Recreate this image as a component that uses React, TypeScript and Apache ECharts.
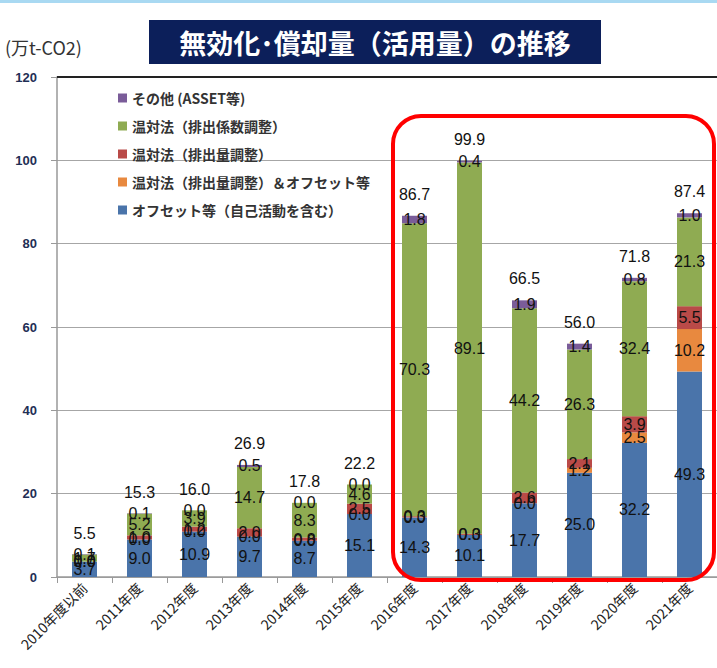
import React, { useEffect, useRef } from "react";
import * as echarts from "echarts";

const categories = [
  "2010年度以前", "2011年度", "2012年度", "2013年度", "2014年度", "2015年度",
  "2016年度", "2017年度", "2018年度", "2019年度", "2020年度", "2021年度",
];
const offsetSelf = [3.7, 9.0, 10.9, 9.7, 8.7, 15.1, 14.3, 10.1, 17.7, 25.0, 32.2, 49.3];
const emissionAndOffset = [0.0, 0.0, 0.0, 0.0, 0.0, 0.0, 0.0, 0.0, 0.0, 1.2, 2.5, 10.2];
const emissionAdj = [0.0, 1.0, 1.2, 2.0, 0.8, 2.5, 0.3, 0.3, 2.6, 2.1, 3.9, 5.5];
const factorAdj = [1.7, 5.2, 3.9, 14.7, 8.3, 4.6, 70.3, 89.1, 44.2, 26.3, 32.4, 21.3];
const others = [0.1, 0.1, 0.0, 0.5, 0.0, 0.0, 1.8, 0.4, 1.9, 1.4, 0.8, 1.0];
const totals = [5.5, 15.3, 16.0, 26.9, 17.8, 22.2, 86.7, 99.9, 66.5, 56.0, 71.8, 87.4];
const yTicks = { min: 0, max: 120, interval: 20 };

const names = {
  other: "その他 (ASSET等)",
  factor: "温対法（排出係数調整）",
  emission: "温対法（排出量調整）",
  emOff: "温対法（排出量調整）＆オフセット等",
  offset: "オフセット等（自己活動を含む）",
};

const colors = {
  offset: "#4a74aa",
  emOff: "#e8893f",
  emission: "#b94a48",
  factor: "#8fab52",
  other: "#7a5c99",
};

const labelStyle = {
  show: true,
  position: "inside" as const,
  color: "#111",
  fontSize: 16,
  fontFamily: "Liberation Sans, Arial, sans-serif",
  formatter: (p: any) => Number(p.value).toFixed(1),
};

export default function App() {
  const ref = useRef<HTMLDivElement>(null);
  useEffect(() => {
    if (!ref.current) return;
    const chart = echarts.init(ref.current, null, { renderer: "svg" });
    const mk = (key: keyof typeof names, data: number[]) => ({
      name: names[key],
      type: "bar",
      stack: "total",
      data,
      barWidth: 25,
      barGap: "-100%",
      itemStyle: { color: colors[key] },
      label: labelStyle,
    });
    chart.setOption({
      animation: false,
      backgroundColor: "#fff",
      graphic: [
        { type: "rect", shape: { x: 0, y: 0, width: 717, height: 3 }, style: { fill: "#a9d9f2" } },
        { type: "rect", shape: { x: 149, y: 20, width: 452, height: 44 }, style: { fill: "#0c1f5a" } },
        {
          type: "text",
          x: 375,
          y: 42,
          style: {
            text: "無効化･償却量（活用量）の推移",
            fill: "#fff",
            fontSize: 27,
            fontWeight: "bold",
            fontFamily: "Noto Sans CJK JP",
            align: "center",
            verticalAlign: "middle",
          },
        },
        {
          type: "text",
          x: 5,
          y: 47,
          style: {
            text: "(万t-CO2)",
            fill: "#333",
            fontSize: 18,
            fontFamily: "Noto Sans CJK JP",
            verticalAlign: "middle",
          },
        },
        {
          type: "rect",
          z: 100,
          shape: { x: 393, y: 116, width: 321, height: 464, r: 28 },
          style: { fill: "none", stroke: "#ff0000", lineWidth: 4 },
        },
      ],
      legend: {
        orient: "vertical",
        left: 113,
        top: 86,
        itemWidth: 9,
        itemHeight: 9,
        itemGap: 14,
        icon: "rect",
        data: [names.other, names.factor, names.emission, names.emOff, names.offset],
        textStyle: {
          fontSize: 14,
          fontWeight: "bold",
          color: "#333",
          fontFamily: "Noto Sans CJK JP",
          lineHeight: 14,
        },
      },
      grid: { left: 57, top: 77, width: 663, height: 500 },
      xAxis: {
        type: "category",
        data: categories,
        boundaryGap: true,
        axisLine: { lineStyle: { color: "#999", width: 1.5 } },
        axisTick: { show: true, length: 6, lineStyle: { color: "#999" } },
        axisLabel: {
          rotate: 45,
          interval: 0,
          fontSize: 14,
          color: "#222",
          margin: 8,
          fontFamily: "Noto Sans CJK JP",
        },
      },
      yAxis: {
        type: "value",
        min: yTicks.min,
        max: yTicks.max,
        interval: yTicks.interval,
        axisLine: { show: true, lineStyle: { color: "#999", width: 1.5 } },
        axisTick: { show: true, length: 6, lineStyle: { color: "#999" } },
        splitLine: { lineStyle: { color: "#a6a6a6", width: 1 } },
        axisLabel: {
          fontSize: 13,
          fontWeight: "bold",
          color: "#1f2f55",
          margin: 20,
          fontFamily: "Liberation Sans, Arial, sans-serif",
        },
      },
      series: [
        mk("offset", offsetSelf),
        mk("emOff", emissionAndOffset),
        mk("emission", emissionAdj),
        mk("factor", factorAdj),
        mk("other", others),
        {
          name: "total",
          type: "bar",
          data: totals,
          barWidth: 25,
          barGap: "-100%",
          itemStyle: { color: "rgba(0,0,0,0)" },
          label: {
            show: true,
            position: "top",
            distance: 13,
            color: "#111",
            fontSize: 16,
            fontFamily: "Liberation Sans, Arial, sans-serif",
            formatter: (p: any) => Number(p.value).toFixed(1),
          },
          markLine: {
            silent: true,
            symbol: "none",
            label: { show: false },
            lineStyle: { color: "#222", width: 2, type: "solid" },
            data: [{ yAxis: yTicks.max }],
          },
        },
      ],
    });
    return () => chart.dispose();
  }, []);
  return (
    <div
      ref={ref}
      style={{ position: "absolute", left: 0, top: 0, width: 717, height: 668 }}
    />
  );
}
